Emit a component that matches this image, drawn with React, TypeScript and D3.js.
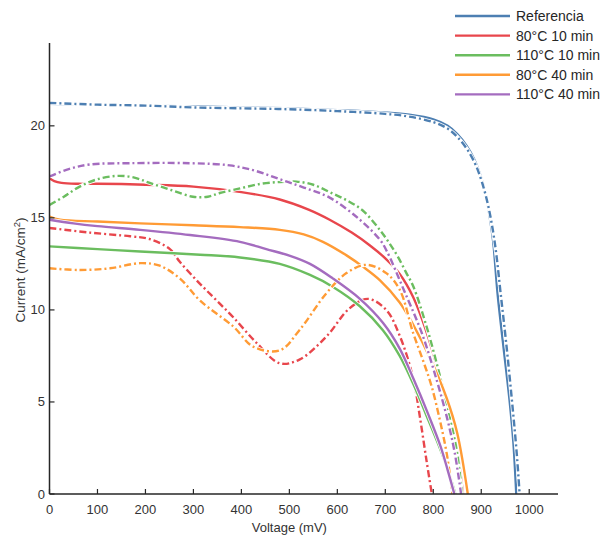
import React from "react";
import * as d3 from "d3";

const W = 607;
const H = 537;

const seriesNames = ["Referencia", "80°C 10 min", "110°C 10 min", "80°C 40 min", "110°C 40 min"];
const seriesColors = ["#4d7fb2", "#e8464c", "#6bbd5f", "#ff9b35", "#a46cbf"];

const xTicks = [0, 100, 200, 300, 400, 500, 600, 700, 800, 900, 1000];
const yTicks = [0, 5, 10, 15, 20];

// Referencia
const refSolidV = [0, 100, 200, 300, 400, 500, 600, 700, 750, 800, 830, 850, 870, 885, 897, 910, 918, 925, 934, 945, 959, 967, 973];
const refSolidI = [21.2, 21.15, 21.1, 21.05, 21.0, 20.95, 20.85, 20.72, 20.6, 20.35, 20.0, 19.55, 18.9, 18.2, 17.4, 16.2, 15.0, 13.7, 10.9, 8.3, 5.1, 2.8, 0];
const refDashV = [0, 100, 200, 300, 400, 500, 600, 700, 750, 800, 830, 850, 870, 888, 902, 915, 925, 932, 940, 952, 965, 974, 980];
const refDashI = [21.25, 21.15, 21.1, 21.0, 20.95, 20.9, 20.8, 20.65, 20.5, 20.2, 19.85, 19.4, 18.75, 17.9, 16.9, 15.6, 14.2, 12.9, 11.0, 8.2, 4.8, 2.2, 0];

// 80°C 10 min
const r10SolidV = [0, 10, 25, 60, 100, 200, 300, 400, 480, 540, 584, 630, 668, 700, 730, 758, 786, 807, 824, 840, 852, 862];
const r10SolidI = [17.15, 17.0, 16.9, 16.85, 16.85, 16.8, 16.7, 16.4, 16.0, 15.45, 14.9, 14.2, 13.5, 12.8, 11.95, 10.7, 8.8, 7.0, 5.4, 3.6, 2.0, 0];
const r10DashV = [0, 84, 168, 209, 251, 272, 307, 345, 383, 432, 480, 521, 577, 626, 664, 702, 730, 758, 772, 786, 797];
const r10DashI = [14.45, 14.2, 14.0, 13.85, 13.3, 12.6, 11.6, 10.6, 9.6, 8.2, 7.1, 7.3, 8.55, 10.1, 10.6, 10.0, 8.6, 6.3, 4.2, 1.8, 0];

// 110°C 10 min
const g10SolidV = [0, 100, 189, 314, 397, 480, 543, 591, 647, 695, 730, 758, 790, 815, 832, 846];
const g10SolidI = [13.45, 13.3, 13.17, 13.0, 12.85, 12.5, 11.9, 11.25, 10.2, 8.9, 7.5, 6.0, 4.0, 2.4, 1.2, 0];
const g10DashV = [0, 30, 63, 100, 140, 175, 209, 255, 299, 330, 355, 397, 440, 480, 515, 550, 584, 620, 653, 690, 709, 726, 744, 758, 786, 813, 835, 850, 860];
const g10DashI = [15.7, 16.15, 16.7, 17.1, 17.28, 17.2, 16.9, 16.5, 16.15, 16.15, 16.35, 16.6, 16.85, 16.95, 16.97, 16.8, 16.4, 15.95, 15.4, 14.3, 13.6, 12.9, 12.0, 11.3, 9.1, 6.5, 4.1, 2.2, 0];

// 80°C 40 min
const o40SolidV = [0, 22, 100, 189, 300, 397, 480, 530, 570, 620, 653, 689, 730, 758, 793, 828, 850, 872];
const o40SolidI = [15.07, 14.9, 14.8, 14.7, 14.6, 14.5, 14.35, 14.1, 13.7, 12.95, 12.35, 11.6, 10.4, 9.2, 7.4, 5.2, 3.3, 0];
const o40DashV = [0, 63, 126, 189, 230, 272, 314, 383, 425, 480, 521, 577, 619, 661, 702, 730, 758, 778, 796, 813, 828, 840];
const o40DashI = [12.26, 12.17, 12.26, 12.54, 12.4, 11.7, 10.5, 9.1, 8.0, 7.8, 8.9, 10.9, 12.0, 12.45, 12.0, 11.1, 8.75, 7.3, 5.9, 4.1, 2.2, 0];

// 110°C 40 min
const p40SolidV = [0, 50, 100, 189, 293, 397, 452, 500, 543, 591, 647, 695, 730, 758, 790, 815, 830, 844];
const p40SolidI = [14.9, 14.7, 14.55, 14.35, 14.07, 13.7, 13.3, 12.95, 12.5, 11.7, 10.6, 9.3, 7.9, 6.3, 4.3, 2.6, 1.3, 0];
const p40DashV = [0, 40, 84, 168, 293, 376, 430, 480, 530, 584, 647, 689, 703, 740, 776, 807, 830, 845, 858];
const p40DashI = [17.25, 17.65, 17.9, 17.97, 17.97, 17.85, 17.55, 17.1, 16.65, 16.1, 14.9, 13.8, 13.2, 11.0, 8.75, 6.2, 4.0, 2.2, 0];

const solidSeries = [
  [refSolidV, refSolidI],
  [r10SolidV, r10SolidI],
  [g10SolidV, g10SolidI],
  [o40SolidV, o40SolidI],
  [p40SolidV, p40SolidI],
];
const dashSeries = [
  [refDashV, refDashI],
  [r10DashV, r10DashI],
  [g10DashV, g10DashI],
  [o40DashV, o40DashI],
  [p40DashV, p40DashI],
];

const margin = { left: 49.5, right: 558, top: 43, bottom: 494 };

export default function App() {
  const x = d3.scaleLinear().domain([0, 1060]).range([margin.left, margin.right]);
  const y = d3.scaleLinear().domain([0, 24.5]).range([margin.bottom, margin.top]);
  const line = d3
    .line<[number, number]>()
    .x((d) => x(d[0]))
    .y((d) => y(d[1]))
    .curve(d3.curveCatmullRom.alpha(0.5));
  const toPts = (vs: number[], is: number[]) => vs.map((v, i) => [v, is[i]] as [number, number]);

  const font = "'Liberation Sans', Arial, sans-serif";
  const axisColor = "#262626";
  const tickLen = 5;
  const lw = 2.4;
  const dash = "7,3,2,3";

  const legendY0 = 16;
  const legendStep = 19.6;

  return (
    <svg
      width={W}
      height={H}
      style={{ position: "absolute", left: 0, top: 0, background: "#fff" }}
      fontFamily={font}
    >
      <rect x={0} y={0} width={W} height={H} fill="#fff" />
      {/* curves */}
      {seriesNames.map((_, k) => {
        const s = toPts(solidSeries[k][0], solidSeries[k][1]);
        const dd = toPts(dashSeries[k][0], dashSeries[k][1]);
        return (
          <g key={k}>
            <path d={line(s) || ""} fill="none" stroke="#fff" strokeWidth={lw + 1.6} />
            <path d={line(s) || ""} fill="none" stroke={seriesColors[k]} strokeWidth={lw} />
            <path d={line(dd) || ""} fill="none" stroke="#fff" strokeWidth={lw + 1.6} />
            <path d={line(dd) || ""} fill="none" stroke={seriesColors[k]} strokeWidth={lw} strokeDasharray={dash} />
          </g>
        );
      })}
      {/* axes */}
      <line x1={margin.left} x2={margin.left} y1={margin.top} y2={margin.bottom} stroke={axisColor} strokeWidth={1.5} />
      <line x1={margin.left} x2={margin.right} y1={margin.bottom} y2={margin.bottom} stroke={axisColor} strokeWidth={1.5} />
      {xTicks.map((t) => (
        <g key={"xt" + t}>
          <line x1={x(t)} x2={x(t)} y1={margin.bottom} y2={margin.bottom - tickLen} stroke={axisColor} strokeWidth={1.2} />
          <text x={x(t)} y={513.5} textAnchor="middle" fontSize={13} fill="#333">
            {t}
          </text>
        </g>
      ))}
      {yTicks.map((t) => (
        <g key={"yt" + t}>
          <line x1={margin.left} x2={margin.left + tickLen} y1={y(t)} y2={y(t)} stroke={axisColor} strokeWidth={1.2} />
          <text x={45} y={y(t) + 4.5} textAnchor="end" fontSize={13} fill="#333">
            {t}
          </text>
        </g>
      ))}
      <text x={x(500)} y={532} textAnchor="middle" fontSize={13} fill="#333">
        Voltage (mV)
      </text>
      <text transform={`translate(25,270) rotate(-90)`} textAnchor="middle" fontSize={13.5} fill="#333">
        Current (mA/cm<tspan dy={-5} fontSize={9.5}>2</tspan>
        <tspan dy={5}>)</tspan>
      </text>
      {/* legend */}
      {seriesNames.map((n, k) => (
        <g key={"lg" + k}>
          <line
            x1={455}
            x2={510}
            y1={legendY0 + k * legendStep}
            y2={legendY0 + k * legendStep}
            stroke={seriesColors[k]}
            strokeWidth={lw}
          />
          <text x={516} y={legendY0 + k * legendStep + 5} fontSize={14} fill="#262626">
            {n}
          </text>
        </g>
      ))}
    </svg>
  );
}
